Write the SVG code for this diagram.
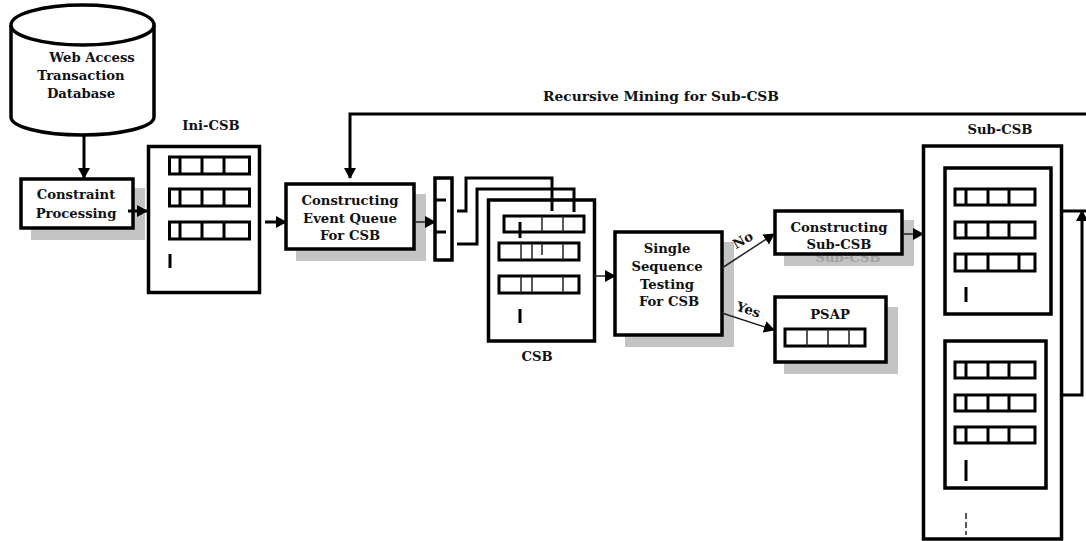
<svg xmlns="http://www.w3.org/2000/svg" width="1086" height="541" viewBox="0 0 1086 541">
<style>
.b{fill:#fff;stroke:#000;stroke-width:3.500}
.s{fill:#c4c4c4;stroke:none}
.r{fill:#fff;stroke:#000;stroke-width:3}
.d{fill:none;stroke:#000;stroke-width:3}
.thin{fill:none;stroke:#222;stroke-width:1.5}
.c{fill:none;stroke:#000;stroke-width:3}
.c2{fill:none;stroke:#222;stroke-width:1.5}
text{font-family:"DejaVu Serif","Liberation Serif",serif;font-weight:bold;font-size:13.2px;fill:#111;text-anchor:middle}
</style>
<defs>
<marker id="a" markerUnits="userSpaceOnUse" markerWidth="11" markerHeight="12" refX="10" refY="6" orient="auto"><path d="M0 0L11 6L0 12Z" fill="#000"/></marker>
</defs>
<g id="database">
<path d="M11 25V117C11 127 43 135 82 135S154 127 154 117V25" fill="#fff" stroke="#000" stroke-width="3.500"/>
<ellipse cx="82.500" cy="25" rx="71.500" ry="20" fill="#fff" stroke="#000" stroke-width="3.500"/>
<text x="92" y="62">Web Access</text><text x="81" y="80">Transaction</text><text x="81" y="98">Database</text>
</g>
<g id="constraint">
<rect class="s" x="31" y="188" width="114" height="52"/>
<rect class="b" x="21" y="179" width="112" height="49"/>
<text x="76" y="199">Constraint</text><text x="76" y="218">Processing</text>
</g>
<g id="ini-csb">
<text x="211" y="130">Ini-CSB</text>
<rect class="b" x="148.500" y="146.500" width="111" height="146"/>
<g id="ini-rows">
<rect class="r" x="169.500" y="157" width="80" height="17"/><path class="d" d="M180 157v17M202 157v17M224 157v17"/>
<rect class="r" x="169.500" y="189" width="80" height="17"/><path class="d" d="M180 189v17M202 189v17M224 189v17"/>
<rect class="r" x="169.500" y="222" width="80" height="17"/><path class="d" d="M180 222v17M202 222v17M224 222v17"/>
<path class="d" d="M170 254v14"/>
</g>
</g>
<g id="event-queue">
<rect class="s" x="296" y="194" width="130" height="67"/>
<rect class="b" x="286" y="184" width="128" height="65"/>
<text x="350" y="205">Constructing</text><text x="350" y="223">Event Queue</text><text x="350" y="240">For CSB</text>
</g>
<g id="queue-stack">
<rect class="b" x="435" y="178" width="17" height="82"/>
<path class="d" d="M435 200h11M435 232h11"/>
</g>
<g id="csb">
<rect class="b" x="488.500" y="200" width="106" height="141"/>
<rect class="r" x="504" y="216" width="80" height="16"/><path class="thin" d="M542 216v16M563 216v16"/>
<rect class="r" x="499" y="243" width="80" height="17"/><path class="thin" d="M521 243v17M532 243v17M542 243v12M563 243v17"/>
<rect class="r" x="499" y="276" width="80" height="17"/><path class="thin" d="M521 276v17M532 276v17M563 276v17"/>
<path class="d" d="M520 222v16"/><path class="d" d="M520 309v14"/>
<text x="537" y="361">CSB</text>
</g>
<g id="single-sequence">
<rect class="s" x="625" y="242" width="109" height="105"/>
<rect class="b" x="615" y="232" width="107" height="103"/>
<text x="667" y="253">Single</text><text x="667" y="271">Sequence</text><text x="667" y="289">Testing</text><text x="669" y="306">For CSB</text>
</g>
<g id="constructing-sub">
<rect class="s" x="784" y="220" width="130" height="46"/>
<text x="848" y="262" style="fill:#a0a0a0">Sub-CSB</text>
<rect class="b" x="775" y="211" width="127" height="43"/>
<text x="839" y="232">Constructing</text><text x="839" y="249">Sub-CSB</text>
</g>
<g id="psap">
<rect class="s" x="784" y="307" width="114" height="67"/>
<rect class="b" x="775" y="297" width="111" height="65"/>
<text x="830" y="319">PSAP</text>
<rect class="r" x="785" y="329" width="80" height="17"/><path class="thin" d="M807 329v17M828 329v17M849 329v17"/>
</g>
<g id="sub-csb">
<text x="1000" y="134">Sub-CSB</text>
<rect class="b" x="923.500" y="146" width="138" height="393"/>
<rect class="b" x="945" y="168" width="106" height="146"/>
<rect class="r" x="955" y="189" width="80" height="16"/><path class="d" d="M966 189v16M988 189v16M1009 189v16"/>
<rect class="r" x="955" y="222" width="80" height="16"/><path class="d" d="M966 222v16M988 222v16M1009 222v16"/>
<rect class="r" x="955" y="254" width="80" height="17"/><path class="d" d="M966 254v17M988 254v17M1019 254v17"/>
<path class="d" d="M966 287v15"/>
<rect class="b" x="945" y="341" width="101" height="147"/>
<rect class="r" x="955" y="362" width="80" height="16"/><path class="d" d="M966 362v16M988 362v16M1009 362v16"/>
<rect class="r" x="955" y="395" width="80" height="16"/><path class="d" d="M966 395v16M988 395v16M1009 395v16"/>
<rect class="r" x="955" y="427" width="80" height="16"/><path class="d" d="M966 427v16M988 427v16M1009 427v16"/>
<path class="d" d="M966 460v21"/>
<path d="M966 513v22" fill="none" stroke="#222" stroke-width="1.500" stroke-dasharray="6 3"/>
</g>
<g id="connectors">
<path class="c" d="M84 135V178" marker-end="url(#a)"/>
<path class="c" d="M128 211H147" marker-end="url(#a)"/>
<path class="c" d="M265 222H286" marker-end="url(#a)"/>
<path class="c" d="M1086 114H350V178" marker-end="url(#a)"/>
<path class="c2" d="M414 222H435" marker-end="url(#a)"/>
<path class="c" d="M457 211H466V178H552V211"/>
<path class="c" d="M457 244H477V189H574V212" stroke-width="2.500"/>
<path class="c2" d="M594 276H615" marker-end="url(#a)"/>
<path class="c2" d="M722 268L774 234" marker-end="url(#a)"/>
<path class="c2" d="M722 313L774 330" marker-end="url(#a)"/>
<path class="c2" d="M902 234H923" marker-end="url(#a)"/>
<path class="c" d="M1062 211H1086"/>
<path class="c" d="M1062 395H1082V211" marker-end="url(#a)"/>
<text x="661" y="101" style="font-size:13.800px">Recursive Mining for Sub-CSB</text>
<text transform="translate(745 244) rotate(-30)" x="0" y="0">No</text>
<text transform="translate(747 314) rotate(18)" x="0" y="0">Yes</text>
</g>
</svg>
